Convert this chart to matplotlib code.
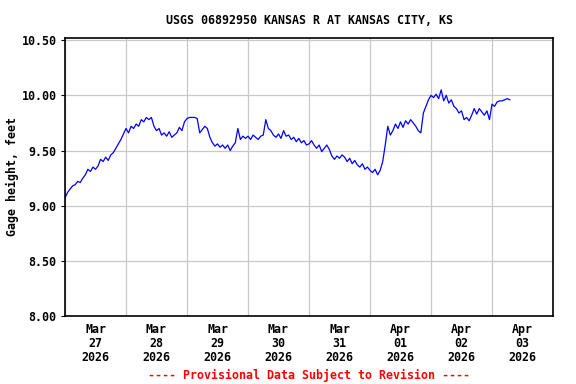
import matplotlib
matplotlib.use('Agg')
import matplotlib.pyplot as plt
import matplotlib.dates as mdates
import pandas as pd

title = 'USGS 06892950 KANSAS R AT KANSAS CITY, KS'
footer = '---- Provisional Data Subject to Revision ----'
ylabel = 'Gage height, feet'
start = '2026-03-27 00:00'

# hourly gage height readings (feet)
gage_height = [
    # Mar 27
    9.07, 9.12, 9.15, 9.18, 9.19, 9.22, 9.21, 9.25, 9.28, 9.33, 9.31, 9.35,
    9.33, 9.36, 9.42, 9.40, 9.44, 9.41, 9.46, 9.48, 9.52, 9.56, 9.60, 9.65,
    # Mar 28
    9.70, 9.66, 9.72, 9.70, 9.74, 9.72, 9.78, 9.76, 9.80, 9.78, 9.80, 9.72,
    9.68, 9.70, 9.64, 9.66, 9.63, 9.67, 9.62, 9.64, 9.66, 9.71, 9.68, 9.76,
    # Mar 29
    9.79, 9.80, 9.80, 9.80, 9.79, 9.66, 9.69, 9.72, 9.70, 9.62, 9.57, 9.54,
    9.56, 9.53, 9.55, 9.52, 9.55, 9.50, 9.54, 9.57, 9.70, 9.60, 9.63, 9.61,
    # Mar 30
    9.63, 9.60, 9.64, 9.62, 9.60, 9.63, 9.64, 9.78, 9.70, 9.68, 9.64, 9.62,
    9.65, 9.61, 9.68, 9.63, 9.64, 9.60, 9.62, 9.58, 9.61, 9.57, 9.59, 9.55,
    # Mar 31
    9.56, 9.59, 9.55, 9.52, 9.55, 9.49, 9.52, 9.55, 9.51, 9.45, 9.42, 9.45,
    9.43, 9.46, 9.44, 9.40, 9.43, 9.38, 9.41, 9.37, 9.35, 9.38, 9.33, 9.35,
    # Apr 01
    9.32, 9.30, 9.33, 9.28, 9.32, 9.40, 9.55, 9.72, 9.64, 9.68, 9.74, 9.70,
    9.76, 9.71, 9.77, 9.74, 9.78, 9.75, 9.72, 9.68, 9.66, 9.84, 9.90, 9.96,
    # Apr 02
    10.00, 9.98, 10.01, 9.97, 10.05, 9.95, 10.00, 9.93, 9.96, 9.90, 9.88, 9.84,
    9.86, 9.78, 9.80, 9.77, 9.82, 9.88, 9.83, 9.88, 9.85, 9.82, 9.86, 9.78,
    # Apr 03
    9.92, 9.90, 9.94, 9.95, 9.95, 9.96, 9.97, 9.96,
]
ytick_values = [8.0, 8.5, 9.0, 9.5, 10.0, 10.5]

times = pd.date_range(start, periods=len(gage_height), freq='h')

mono = 'DejaVu Sans Mono'
fs = 8.4
fig = plt.figure(figsize=(5.76, 3.84), dpi=100)
ax = fig.add_axes([65 / 576, 68 / 384, 488 / 576, 278 / 384])

ax.plot(times, gage_height, color='#0000ff', linewidth=0.9)

ax.set_xlim(pd.Timestamp('2026-03-27'), pd.Timestamp('2026-04-04'))
ax.set_ylim(8.0, 10.52)

# gridlines at midnight, labels at noon
ax.xaxis.set_major_locator(mdates.DayLocator())
ax.xaxis.set_major_formatter(plt.NullFormatter())
ax.xaxis.set_minor_locator(mdates.HourLocator(byhour=[12]))
ax.xaxis.set_minor_formatter(mdates.DateFormatter('%b\n%d\n%Y'))
ax.tick_params(axis='x', which='both', length=0, pad=5)
ax.tick_params(axis='x', which='minor', labelsize=fs)
for lab in ax.get_xticklabels(minor=True):
    lab.set_fontfamily(mono)
    lab.set_fontweight('bold')
    lab.set_linespacing(1.1)

ax.set_yticks(ytick_values)
ax.set_yticklabels(['%.2f' % v for v in ytick_values], fontfamily=mono,
                   fontweight='bold', fontsize=fs)
ax.tick_params(axis='y', length=3, width=0.8, pad=3)

ax.grid(True, which='major', color='#c8c8c8', linewidth=0.9)
ax.set_axisbelow(True)
for s in ax.spines.values():
    s.set_linewidth(1.2)

ax.set_ylabel(ylabel, fontfamily=mono, fontweight='bold', fontsize=fs)
ax.yaxis.set_label_coords(-0.094, 0.5)

fig.text(309 / 576, 1 - 20 / 384, title, ha='center', va='center',
         fontfamily=mono, fontweight='bold', fontsize=fs)
fig.text(309 / 576, 1 - 375 / 384, footer, ha='center', va='center',
         fontfamily=mono, fontweight='bold', fontsize=fs, color='red')

plt.savefig('out.png', dpi=100)
